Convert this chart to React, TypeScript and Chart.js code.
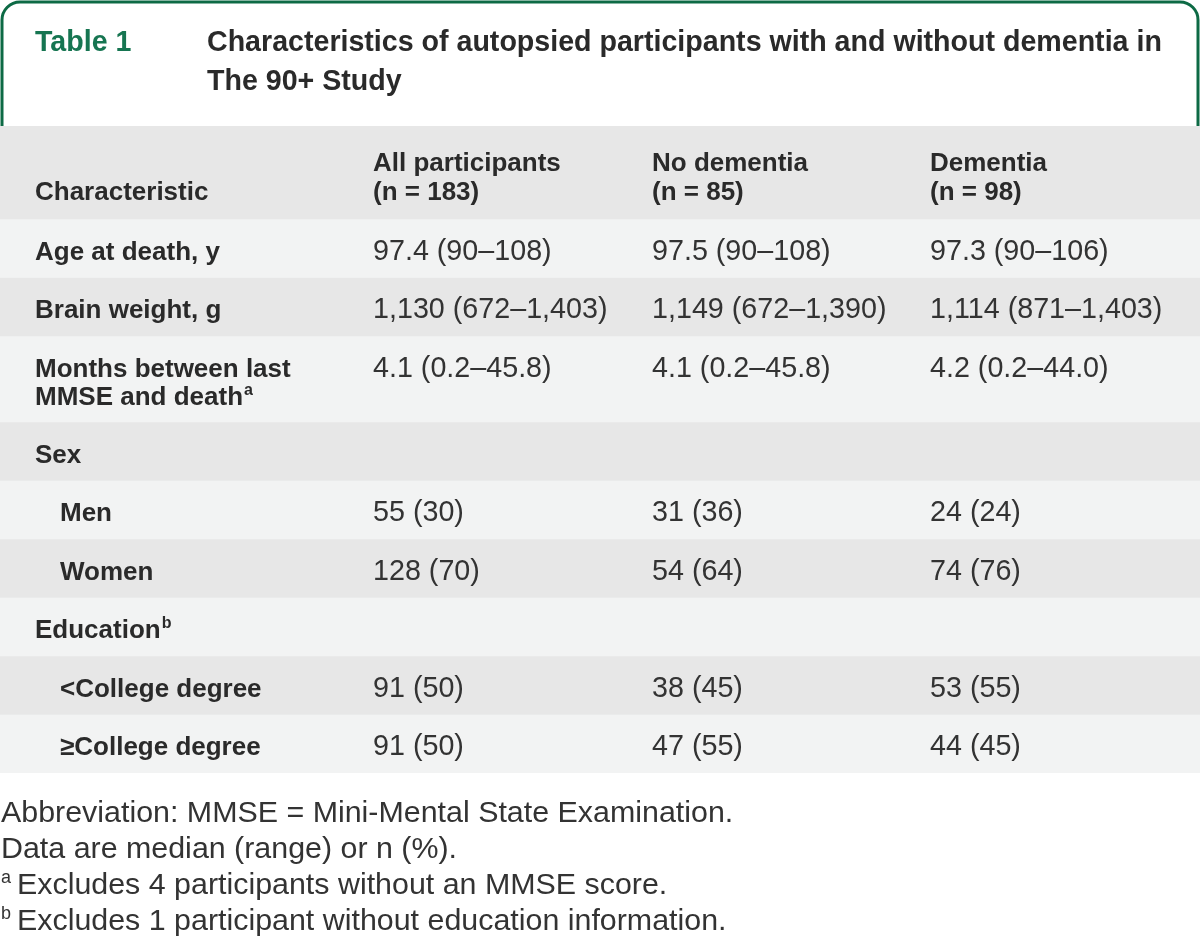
import React, { useEffect, useRef } from "react";
import { Chart, registerables } from "chart.js";

Chart.register(...registerables);

// ---------------- data ----------------
const tableLabel = "Table 1";
const titleLines = [
  "Characteristics of autopsied participants with and without dementia in",
  "The 90+ Study",
];
const columnHeads: string[][] = [
  ["Characteristic"],
  ["All participants", "(n = 183)"],
  ["No dementia", "(n = 85)"],
  ["Dementia", "(n = 98)"],
];
const rowLabels: string[][] = [
  ["Age at death, y"],
  ["Brain weight, g"],
  ["Months between last", "MMSE and death"],
  ["Sex"],
  ["Men"],
  ["Women"],
  ["Education"],
  ["<College degree"],
  ["\u2265College degree"],
];
const rowNotes = ["", "", "a", "", "", "", "b", "", ""];
const rowIndented = [false, false, false, false, true, true, false, true, true];
const allParticipants = [
  "97.4 (90\u2013108)",
  "1,130 (672\u20131,403)",
  "4.1 (0.2\u201345.8)",
  "",
  "55 (30)",
  "128 (70)",
  "",
  "91 (50)",
  "91 (50)",
];
const noDementia = [
  "97.5 (90\u2013108)",
  "1,149 (672\u20131,390)",
  "4.1 (0.2\u201345.8)",
  "",
  "31 (36)",
  "54 (64)",
  "",
  "38 (45)",
  "47 (55)",
];
const dementia = [
  "97.3 (90\u2013106)",
  "1,114 (871\u20131,403)",
  "4.2 (0.2\u201344.0)",
  "",
  "24 (24)",
  "74 (76)",
  "",
  "53 (55)",
  "44 (45)",
];
const footnoteMarks = ["", "", "a", "b"];
const footnoteTexts = [
  "Abbreviation: MMSE = Mini-Mental State Examination.",
  "Data are median (range) or n (%).",
  "Excludes 4 participants without an MMSE score.",
  "Excludes 1 participant without education information.",
];

// ---------------- layout / style ----------------
const W = 1200;
const H = 946;
const TABLE_TOP = 126;
const ROW_BASE = 58.5;
const EXTRA_LINE = 27.5;
const HEADER_EXTRA = 7;
const LINE_GAP = 28;
const HEADER_LINE_GAP = 29;
const FIRST_BASELINE = 40.5;
const HEADER_BOTTOM_BASELINE = 19;
const COL_X = [35, 373, 652, 930];
const INDENT = 25;

const GREEN_BORDER = "#0d6a45";
const GREEN_TEXT = "#167551";
const DARK_ROW = "#e7e7e7";
const LIGHT_ROW = "#f2f3f3";
const LABEL_COLOR = "#2a2a2a";
const VALUE_COLOR = "#333333";

const FAMILY = "'Liberation Sans', Arial, Helvetica, sans-serif";
const TITLE_FONT = `bold 28.6px ${FAMILY}`;
const LABEL_FONT = `bold 26px ${FAMILY}`;
const HEAD_FONT = `bold 26px ${FAMILY}`;
const SUP_FONT = `bold 16px ${FAMILY}`;
const VALUE_FONT = `28.7px ${FAMILY}`;
const NOTE_FONT = `30.4px ${FAMILY}`;
const NOTE_SUP_FONT = `18px ${FAMILY}`;

// row extents (in table units), derived from the number of lines of each row
const headerLines = Math.max(...columnHeads.map((c) => c.length));
const rowHeights = [
  ROW_BASE + (headerLines - 1) * EXTRA_LINE + HEADER_EXTRA,
  ...rowLabels.map((l) => ROW_BASE + (l.length - 1) * EXTRA_LINE),
];
const rowBounds: [number, number][] = [];
{
  let acc = 0;
  for (const h of rowHeights) {
    rowBounds.push([acc, acc + h]);
    acc += h;
  }
}
const TOTAL = rowBounds[rowBounds.length - 1][1];
const TABLE_BOTTOM_PAD = H - TABLE_TOP - TOTAL;

const tablePlugin = {
  id: "tableText",
  beforeDatasetsDraw(chart: any) {
    const ctx: CanvasRenderingContext2D = chart.ctx;
    const area = chart.chartArea;
    ctx.save();
    // green frame of the caption
    const r = 18;
    const lw = 3;
    const l = lw / 2 + 0.5;
    const rt = chart.width - lw / 2 - 0.5;
    const t = lw / 2 + 0.5;
    ctx.strokeStyle = GREEN_BORDER;
    ctx.lineWidth = lw;
    ctx.beginPath();
    ctx.moveTo(l, area.top);
    ctx.lineTo(l, t + r);
    ctx.arcTo(l, t, l + r, t, r);
    ctx.lineTo(rt - r, t);
    ctx.arcTo(rt, t, rt, t + r, r);
    ctx.lineTo(rt, area.top);
    ctx.stroke();
    // caption text
    ctx.textBaseline = "alphabetic";
    ctx.textAlign = "left";
    ctx.font = TITLE_FONT;
    ctx.fillStyle = GREEN_TEXT;
    ctx.fillText(tableLabel, 35, 51);
    ctx.fillStyle = LABEL_COLOR;
    titleLines.forEach((line, i) => ctx.fillText(line, 207, 51 + i * 39));
    ctx.restore();
  },
  afterDatasetsDraw(chart: any) {
    const ctx: CanvasRenderingContext2D = chart.ctx;
    const y = chart.scales.y;
    const area = chart.chartArea;
    const colX = (c: number) => area.left + (COL_X[c] / W) * (area.right - area.left);
    ctx.save();
    ctx.textBaseline = "alphabetic";
    ctx.textAlign = "left";

    // header row: bottom aligned
    const hb = y.getPixelForValue(rowBounds[0][1]);
    columnHeads.forEach((lines, c) => {
      ctx.font = c === 0 ? LABEL_FONT : HEAD_FONT;
      ctx.fillStyle = LABEL_COLOR;
      lines.forEach((txt, k) => {
        const base = hb - HEADER_BOTTOM_BASELINE - (lines.length - 1 - k) * HEADER_LINE_GAP;
        ctx.fillText(txt, colX(c), base);
      });
    });

    // body rows
    rowLabels.forEach((lines, i) => {
      const top = y.getPixelForValue(rowBounds[i + 1][0]);
      const x0 = colX(0) + (rowIndented[i] ? INDENT : 0);
      ctx.fillStyle = LABEL_COLOR;
      lines.forEach((txt, k) => {
        const base = top + FIRST_BASELINE + k * LINE_GAP;
        ctx.font = LABEL_FONT;
        ctx.fillText(txt, x0, base);
        if (k === lines.length - 1 && rowNotes[i]) {
          const w = ctx.measureText(txt).width;
          ctx.font = SUP_FONT;
          ctx.fillText(rowNotes[i], x0 + w + 1, base - 10);
        }
      });
      const base0 = top + FIRST_BASELINE;
      ctx.font = VALUE_FONT;
      ctx.fillStyle = VALUE_COLOR;
      [allParticipants, noDementia, dementia].forEach((col, c) => {
        if (col[i]) ctx.fillText(col[i], colX(c + 1), base0);
      });
    });

    // footnotes
    const fb = area.bottom;
    footnoteTexts.forEach((txt, i) => {
      const base = fb + 49 + i * 36;
      ctx.fillStyle = VALUE_COLOR;
      let x = 1;
      if (footnoteMarks[i]) {
        ctx.font = NOTE_SUP_FONT;
        ctx.fillText(footnoteMarks[i], x, base - 11);
        x += 16;
      }
      ctx.font = NOTE_FONT;
      ctx.fillText(txt, x, base);
    });
    ctx.restore();
  },
};

export default function App() {
  const canvasRef = useRef<HTMLCanvasElement | null>(null);

  useEffect(() => {
    document.body.style.margin = "0";
    const canvas = canvasRef.current;
    if (!canvas) return;
    const datasets = rowBounds.map((b, i) => ({
      label: i === 0 ? "header" : rowLabels[i - 1].join(" "),
      data: [b as any],
      backgroundColor: i === 0 ? DARK_ROW : i % 2 === 1 ? LIGHT_ROW : DARK_ROW,
      borderWidth: 0,
      borderSkipped: false,
      grouped: false,
      barPercentage: 1,
      categoryPercentage: 1,
    }));
    const chart = new Chart(canvas, {
      type: "bar",
      data: { labels: ["table"], datasets: datasets as any },
      options: {
        animation: false,
        responsive: false,
        devicePixelRatio: 1,
        layout: { padding: { top: TABLE_TOP, bottom: TABLE_BOTTOM_PAD, left: 0, right: 0 } },
        scales: {
          x: { type: "category", display: false },
          y: { type: "linear", display: false, min: 0, max: TOTAL, reverse: true },
        },
        plugins: {
          legend: { display: false },
          tooltip: { enabled: false },
          title: { display: false },
        },
      } as any,
      plugins: [tablePlugin as any],
    });
    (document as any).fonts?.ready?.then(() => {
      try {
        chart.draw();
      } catch (e) {}
    });
    return () => chart.destroy();
  }, []);

  return (
    <div style={{ width: W, height: H, position: "relative" }}>
      <canvas ref={canvasRef} width={W} height={H} style={{ display: "block", width: W, height: H }} />
    </div>
  );
}
